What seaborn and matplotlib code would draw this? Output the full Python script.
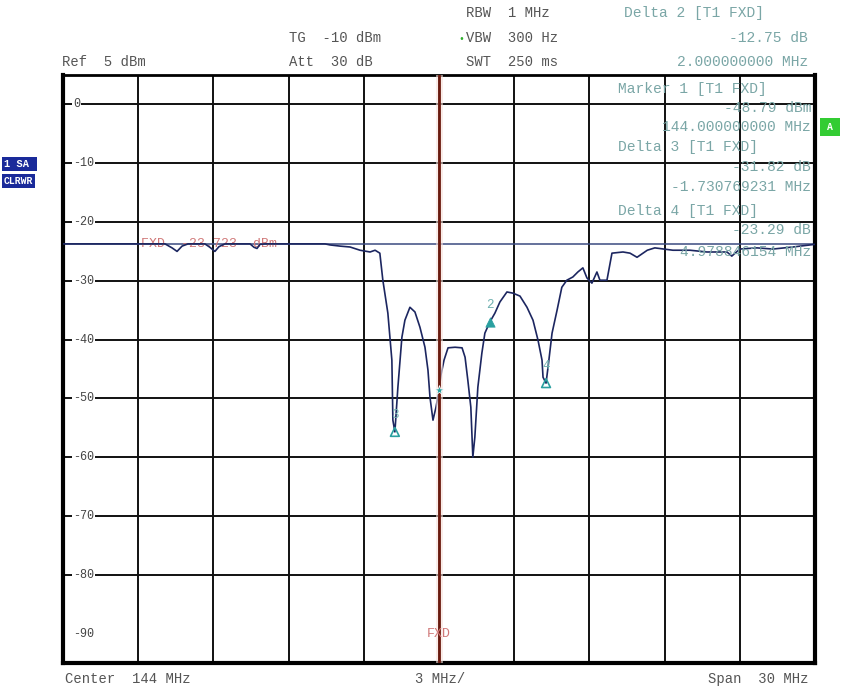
import matplotlib
matplotlib.use("Agg")
import matplotlib.pyplot as plt
import seaborn as sns
import pandas as pd
from matplotlib.patches import Rectangle

# ---------------- data ----------------
freq_mhz = [129.0, 133.07, 133.35, 133.55, 133.75, 133.99, 134.66, 134.86, 135.06, 135.22,
            135.46, 136.46, 136.62, 136.74, 136.86, 137.06, 139.45, 139.65, 140.05, 140.45,
            140.85, 141.25, 141.45, 141.64, 141.76, 141.96, 142.12, 142.16, 142.24, 142.36,
            142.52, 142.64, 142.84, 143.04, 143.24, 143.44, 143.56, 143.64, 143.76, 143.88,
            144.0, 144.08, 144.2, 144.36, 144.64, 144.92, 145.04, 145.15, 145.27, 145.35,
            145.43, 145.55, 145.71, 145.83, 146.03, 146.23, 146.43, 146.71, 146.95, 147.23,
            147.51, 147.75, 147.95, 148.11, 148.15, 148.27, 148.35, 148.51, 148.71, 148.9,
            149.1, 149.34, 149.54, 149.74, 149.9, 150.1, 150.3, 150.42, 150.7, 150.9,
            151.34, 151.62, 151.9, 152.31, 152.61, 153.33, 154.01, 154.69, 155.49, 155.68,
            156.0, 156.68, 157.32, 158.12, 159.0]
level_dbm = [-23.72, -23.72, -24.4, -25.0, -24.1, -23.72, -23.72, -24.3, -25.0, -24.2,
             -23.72, -23.72, -24.3, -24.5, -23.8, -23.72, -23.72, -23.9, -24.1, -24.25,
             -24.8, -25.1, -24.8, -25.3, -29.9, -35.5, -43.5, -53.7, -55.7, -48.1,
             -39.6, -36.7, -34.5, -35.3, -37.9, -41.3, -45.2, -49.8, -53.7, -51.5,
             -48.6, -46.0, -43.5, -41.4, -41.3, -41.4, -43.0, -46.9, -51.5, -60.0,
             -56.6, -48.1, -42.3, -38.9, -37.0, -35.5, -33.6, -31.9, -32.1, -32.6,
             -34.5, -36.7, -40.1, -43.5, -46.4, -47.4, -44.7, -38.9, -35.0, -31.1,
             -29.9, -29.35, -28.5, -27.8, -29.5, -30.4, -28.5, -29.9, -29.9, -25.3,
             -25.1, -25.3, -26.0, -24.8, -24.4, -24.8, -24.8, -25.1, -25.1, -25.8,
             -24.6, -24.4, -24.6, -24.25, -23.8]

marker_names = ["1", "2", "3", "4"]
marker_freq = [144.0, 146.03, 142.24, 148.27]
marker_level = [-48.6, -37.0, -55.7, -47.4]

fxd_level = -23.723
fxd_freq = 144.0

ytick_vals = [0, -10, -20, -30, -40, -50, -60, -70, -80, -90]
ytick_labels = ["0", "-10", "-20", "-30", "-40", "-50", "-60", "-70", "-80", "-90"]
xgrid_vals = [129, 132, 135, 138, 141, 144, 147, 150, 153, 156, 159]

header_texts = ["Ref  5 dBm", "TG  -10 dBm", "Att  30 dB", "RBW  1 MHz", "VBW  300 Hz", "SWT  250 ms"]
delta2_texts = ["Delta 2 [T1 FXD]", "-12.75 dB", "2.000000000 MHz"]
marker_info = ["Marker 1 [T1 FXD]", "-48.79 dBm", "144.000000000 MHz",
               "Delta 3 [T1 FXD]", "-31.82 dB", "-1.730769231 MHz",
               "Delta 4 [T1 FXD]", "-23.29 dB", "4.978846154 MHz"]
footer_texts = ["Center  144 MHz", "3 MHz/", "Span  30 MHz"]

# ---------------- figure ----------------
sns.set_style("white")
plt.rcParams['font.family'] = ['Liberation Mono', 'DejaVu Sans Mono']

W, H = 842, 688
fig = plt.figure(figsize=(W / 100, H / 100), dpi=100)
L, R, T, B = 63, 815, 75, 663
ax = fig.add_axes([L / W, 1 - B / H, (R - L) / W, (B - T) / H])
ax.set_xlim(129, 159)
ax.set_ylim(-95, 5)

ax.set_xticks(xgrid_vals)
ax.set_yticks(ytick_vals[:-1])
ax.grid(True, color="#111111", lw=1.4, zorder=0)
ax.tick_params(length=0, labelbottom=False, labelleft=False)
for s in ax.spines.values():
    s.set_color("black")
    s.set_linewidth(3)
ax.spines["top"].set_linewidth(2)

# y labels inside plot
for v, lab in zip(ytick_vals, ytick_labels):
    ax.text(129.4, v, lab, ha="left", va="center", fontsize=8.5, color="#444444",
            bbox=dict(facecolor="white", edgecolor="none", pad=1.0), zorder=3)

# FXD horizontal line
ax.axhline(fxd_level, color="#3a4a80", lw=1.1, zorder=2)
ax.text(132.1, fxd_level, "FXD  -23.723  dBm", ha="left", va="center",
        fontsize=9.5, color="#d07878", zorder=3)

# trace
df = pd.DataFrame({"freq": freq_mhz, "level": level_dbm})
sns.lineplot(data=df, x="freq", y="level", ax=ax, color="#1c2660", lw=1.2,
             sort=False, zorder=4, estimator=None)

# vertical FXD line
ax.axvline(fxd_freq, color="#f8e0da", lw=5, zorder=5, alpha=0.6)
ax.axvline(fxd_freq, color="#6a1a0e", lw=2, zorder=6)
ax.text(fxd_freq, -90, "FXD", ha="center", va="center", fontsize=9.5,
        color="#d07878", zorder=7)

# markers
mdf = pd.DataFrame({"f": marker_freq, "l": marker_level, "n": marker_names})
sns.scatterplot(data=mdf.iloc[1:2], x="f", y="l", ax=ax, marker="^", s=45,
                color="#2aa0a0", edgecolor="#2aa0a0", zorder=8)
sns.scatterplot(data=mdf.iloc[[2, 3]], x="f", y="l", ax=ax, marker="^", s=40,
                facecolor="none", edgecolor="#2aa0a0", linewidth=1.2, zorder=8)
sns.scatterplot(data=mdf.iloc[0:1], x="f", y="l", ax=ax, marker="*", s=50,
                color="#2aa0a0", zorder=8)
ax.set_xlabel("")
ax.set_ylabel("")
for f, l, n in zip(marker_freq[1:], marker_level[1:], marker_names[1:]):
    ax.annotate(n, (f, l), xytext=(0, 12), textcoords="offset points",
                ha="center", va="center", fontsize=9, color="#6fb0b0", zorder=9)


# ---------------- texts (figure pixel coords) ----------------
def ftext(x, y, s, **kw):
    fig.text(x / W, 1 - y / H, s, va="center", **kw)


hdr = dict(fontsize=10, color="#555555")
ftext(62, 62, header_texts[0], **hdr)
ftext(289, 38, header_texts[1], **hdr)
ftext(289, 62, header_texts[2], **hdr)
ftext(466, 13, header_texts[3], **hdr)
ftext(466, 38, header_texts[4], **hdr)
ftext(466, 62, header_texts[5], **hdr)
ftext(458, 39, "•", fontsize=7, color="#30b030")

mk = dict(fontsize=10.5, color="#7aa6a6")
ftext(624, 13, delta2_texts[0], **mk)
ftext(808, 38, delta2_texts[1], ha="right", **mk)
ftext(808, 62, delta2_texts[2], ha="right", **mk)

ys = [89, 108, 127, 147, 167, 187, 211, 230, 252]
for i, (s, y) in enumerate(zip(marker_info, ys)):
    if i % 3 == 0:
        ftext(618, y, s, **mk)
    else:
        ftext(811, y, s, ha="right", **mk)

ftr = dict(fontsize=10, color="#555555")
ftext(65, 679, footer_texts[0], **ftr)
ftext(415, 679, footer_texts[1], **ftr)
ftext(808, 679, footer_texts[2], ha="right", **ftr)

# status boxes
fig.text(4 / W, 1 - 164 / H, "1 SA ", fontsize=7.5, color="white", va="center",
         fontweight="bold", bbox=dict(facecolor="#1a2a9a", edgecolor="none", pad=1.5))
fig.text(4 / W, 1 - 181 / H, "CLRWR", fontsize=7, color="white", va="center",
         fontweight="bold", bbox=dict(facecolor="#1a2a9a", edgecolor="none", pad=1.5))
fig.patches.append(Rectangle((820 / W, 1 - 136 / H), 20 / W, 18 / H,
                             transform=fig.transFigure, facecolor="#33cc33",
                             edgecolor="none"))
ftext(830, 127, "A", fontsize=7, color="white", ha="center", fontweight="bold")

fig.savefig("out.png", dpi=100)
